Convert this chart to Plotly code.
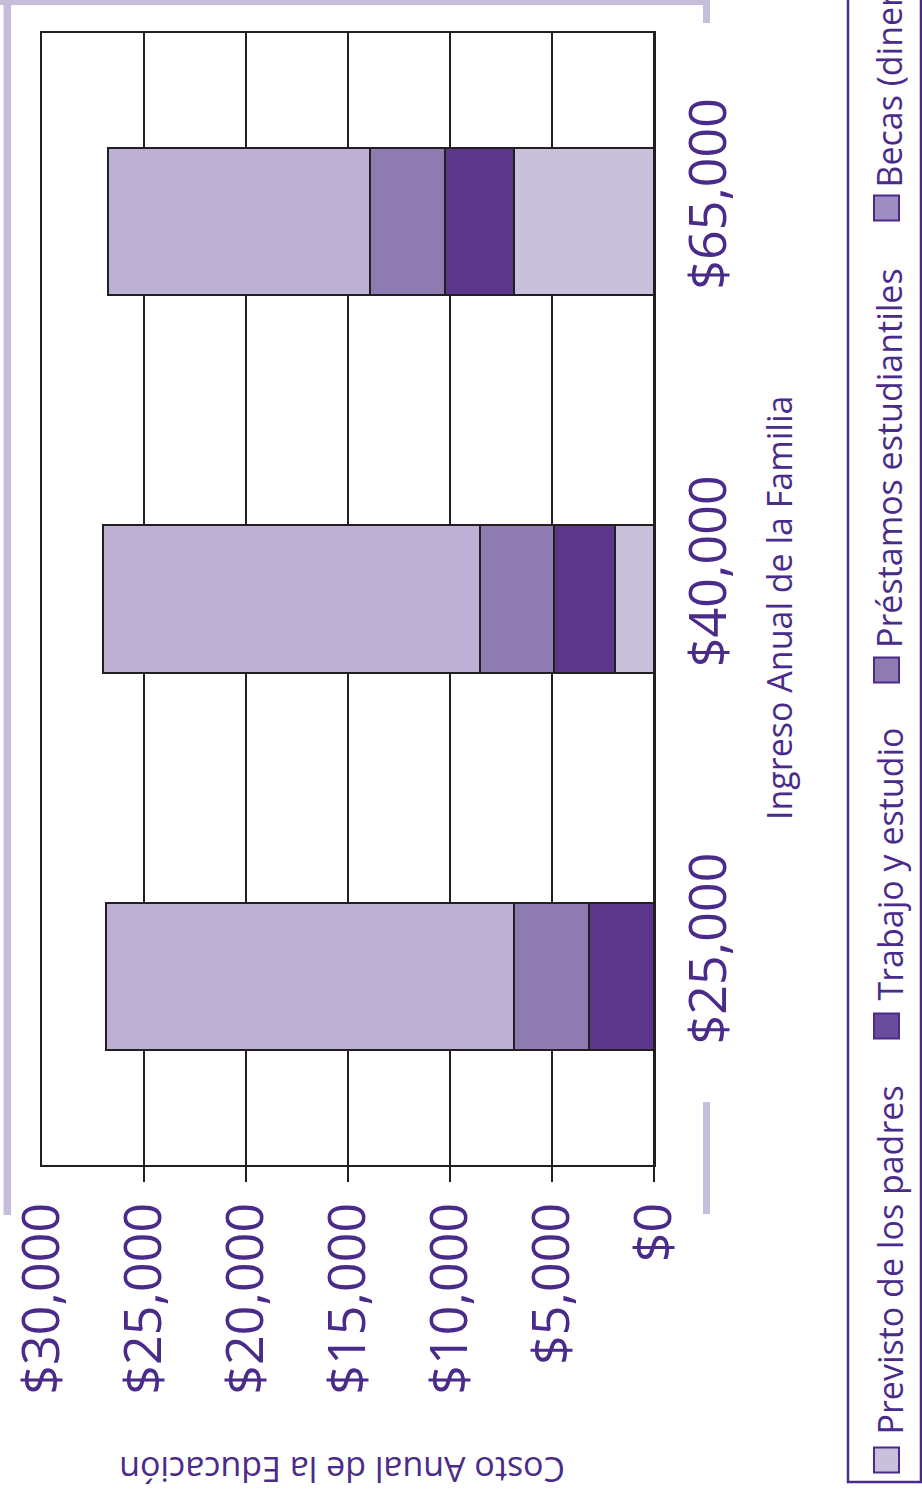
import plotly.graph_objects as go

# ---- data ----
categories = ["$25,000", "$40,000", "$65,000"]
series_names = ["Previsto de los padres", "Trabajo y estudio",
                "Préstamos estudiantiles", "Becas (dinero gratuito)"]
previsto = [0, 1900, 6850]
trabajo = [3200, 3000, 3400]
prestamos = [3650, 3650, 3650]
becas = [20000, 18450, 12850]
value_ticks = [0, 5000, 10000, 15000, 20000, 25000, 30000]
value_tick_labels = ["$0", "$5,000", "$10,000", "$15,000", "$20,000", "$25,000", "$30,000"]
tick_mark_vals = [0, 5000, 10000, 15000, 20000, 25000]

colors = ["#c9c0dc", "#5c368a", "#8e7bb2", "#bcb1d4"]
legend_square_colors = ["#c9c0dc", "#6a4c9c", "#8e7bb2", "#9d8dc3"]
PURPLE = "#4a2b8a"
DARK = "#231f20"
LAV = "#c6bddb"
FONT = "Open Sans"

W, H = 922, 1489
L, R, T, B = 42, 654, 33, 1165


def px2x(px):
    return (px - L) / (R - L)


def px2y(py):
    return (B - py) / (B - T)


fig = go.Figure()
for name, vals, col in zip(series_names, [previsto, trabajo, prestamos, becas], colors):
    fig.add_trace(go.Bar(
        y=categories, x=vals, name=name, orientation="h",
        marker=dict(color=col, line=dict(color=DARK, width=2)),
        showlegend=False,
    ))

fig.update_layout(
    width=W, height=H,
    margin=dict(l=L, r=W - R, t=T, b=H - B, pad=0, autoexpand=False),
    barmode="stack", bargap=0.61,
    paper_bgcolor="white", plot_bgcolor="white",
    font=dict(family=FONT, color=PURPLE),
)

fig.update_xaxes(
    range=[30000, 0], autorange=False, automargin=False,
    tickvals=value_ticks, ticktext=value_tick_labels,
    tickangle=-90, tickfont=dict(size=52, color=PURPLE, family=FONT),
    ticks="", ticklabelstandoff=15,
    minor=dict(tickvals=tick_mark_vals, ticks="outside", ticklen=15,
               tickwidth=2, tickcolor=DARK, showgrid=False),
    showgrid=True, gridcolor=DARK, gridwidth=2,
    showline=True, linecolor=DARK, linewidth=2, mirror=True,
    zeroline=True, zerolinecolor=DARK, zerolinewidth=3,
)
fig.update_yaxes(
    side="right", tickangle=-90, automargin=False,
    tickfont=dict(size=52, color=PURPLE, family=FONT),
    ticks="", ticklabelstandoff=8, ticklabelshift=-20,
    showgrid=False,
    showline=True, linecolor=DARK, linewidth=2, mirror=True,
)

annotations = [
    dict(text="Ingreso Anual de la Familia", textangle=-90,
         x=px2x(779), y=px2y(608), xref="paper", yref="paper",
         xanchor="center", yanchor="middle", showarrow=False,
         font=dict(size=34, color=PURPLE, family=FONT)),
    dict(text="Costo Anual de la Educación", textangle=180,
         x=px2x(342), y=px2y(1470), xref="paper", yref="paper",
         xanchor="center", yanchor="middle", showarrow=False,
         font=dict(size=34, color=PURPLE, family=FONT)),
]

shapes = []
# decorative lavender frame
for x0, y0, x1, y1 in [(0, -5, 710, 5), (703, -5, 710, 23),
                       (3.5, -5, 11, 1215), (703, 1102, 710, 1214)]:
    shapes.append(dict(type="rect", xref="paper", yref="paper",
                       x0=px2x(x0), x1=px2x(x1), y0=px2y(y0), y1=px2y(y1),
                       fillcolor=LAV, line=dict(width=0), layer="above"))
# legend box
shapes.append(dict(type="rect", xref="paper", yref="paper",
                   x0=px2x(848), x1=px2x(921), y0=px2y(-20), y1=px2y(1482),
                   fillcolor="rgba(0,0,0,0)", line=dict(color=PURPLE, width=2.5)))

legend_sq_y = [1460, 1026, 670, 208]
legend_txt_bottom = [1437, 1003, 650, 190]
for name, sc, sy, ty in zip(series_names, legend_square_colors, legend_sq_y, legend_txt_bottom):
    shapes.append(dict(type="rect", xref="paper", yref="paper",
                       x0=px2x(874), x1=px2x(899), y0=px2y(sy + 12.5), y1=px2y(sy - 12.5),
                       fillcolor=sc, line=dict(color=PURPLE, width=2)))
    annotations.append(dict(text=name, textangle=-90,
                            x=px2x(889), y=px2y(ty), xref="paper", yref="paper",
                            xanchor="center", yanchor="bottom", showarrow=False,
                            font=dict(size=34, color=PURPLE, family=FONT)))

fig.update_layout(annotations=annotations, shapes=shapes)

fig.write_html(
    "out.html",
    config={"displayModeBar": False},
    post_script="document.body.style.margin='0';document.body.style.padding='0';",
)
